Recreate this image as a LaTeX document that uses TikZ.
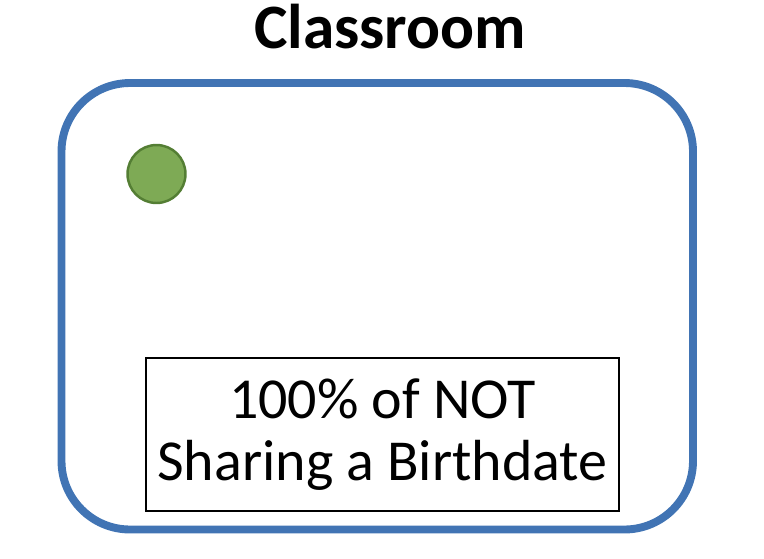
\documentclass[tikz,border=0pt]{standalone}
\usepackage{fontspec}
\setmainfont{Carlito}
\usepackage{tikz}
\usepackage{xcolor}
\definecolor{roomblue}{RGB}{65,116,180}
\definecolor{dotgreen}{RGB}{126,170,85}
\definecolor{dotedge}{RGB}{84,126,52}

\begin{document}
\begin{tikzpicture}
    [
        x=0.02cm, y=-0.02cm,
        room style/.style={draw=roomblue, line width=4.5pt, rounded corners=39pt},
        person style/.style={circle, draw=dotedge, fill=dotgreen, line width=1.4pt, minimum size=33pt, inner sep=0pt},
        label style/.style={draw=black, line width=1.1pt, minimum width=269pt, minimum height=87pt, align=center,
            font=\fontsize{33}{35}\selectfont}
    ]
    \useasboundingbox (0,0) rectangle (764,558);
    \node[font=\fontsize{36}{40}\selectfont\bfseries, anchor=base] (title) at (390,48) {Classroom};
    \draw[room style] (61.5,83) rectangle (693,529.5);
    \node[person style] (person) at (156.5,174) {};
    \node[label style] (share) at (382.5,434.5) {100\% of NOT\\Sharing a Birthdate};
\end{tikzpicture}
\end{document}
